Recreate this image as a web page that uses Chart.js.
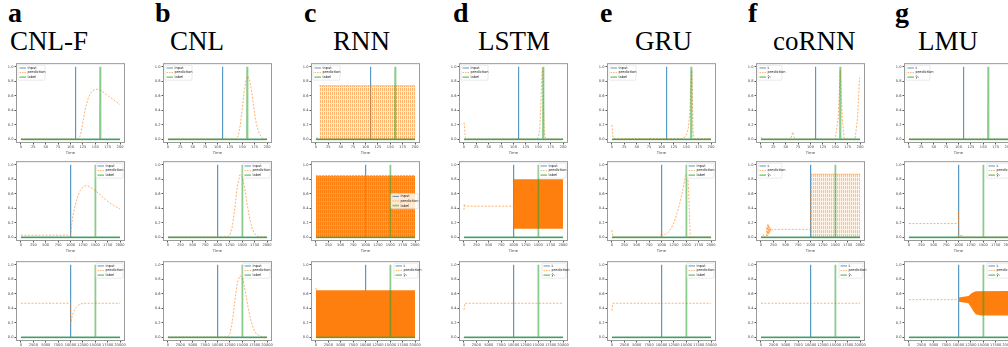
<!DOCTYPE html>
<html>
<head>
<meta charset="utf-8">
<script src="https://cdn.jsdelivr.net/npm/chart.js@4"></script>
<style>
body { margin: 0; background: #fff; }
#fig { position: relative; width: 1008px; height: 347px; overflow: hidden; font-family: "Liberation Serif", "DejaVu Serif", serif; color: #000; }
.letter { position: absolute; top: -3px; font-weight: bold; font-size: 28px; }
.title { position: absolute; top: 26px; font-size: 27px; }
.panel { position: absolute; }
</style>
</head>
<body>
<div id="fig"></div>
<script>
// column headers
const letters = ["a", "b", "c", "d", "e", "f", "g"];
const titles = ["CNL-F", "CNL", "RNN", "LSTM", "GRU", "coRNN", "LMU"];

// one row per sequence length
const timeSpan = [200, 2000, 20000];
const inputAt = [110, 1000, 10000];
const labelAt = [160, 1500, 15000];
const xTicks = [
    [0, 25, 50, 75, 100, 125, 150, 175, 200],
    [0, 250, 500, 750, 1000, 1250, 1500, 1750, 2000],
    [0, 2500, 5000, 7500, 10000, 12500, 15000, 17500, 20000]
];
const yTicks = [0, 0.2, 0.4, 0.6, 0.8, 1.0];
const plainNames = ["input", "prediction", "label"];
const subNames = ["I\u209C", "prediction", "\u0177\u209C"];

// predictions [time, value]
const predA1 = [[0,0.005],[116,0.005],[119,0.04],[122,0.12],[125,0.24],[128,0.36],[132,0.48],[136,0.57],[140,0.63],[145,0.67],[150,0.69],[155,0.69],[160,0.675],[165,0.655],[170,0.63],[180,0.58],[190,0.53],[200,0.48]];
const predA2 = [[0,0.03],[1000,0.03],[1020,0.15],[1050,0.3],[1100,0.46],[1150,0.57],[1200,0.65],[1250,0.695],[1300,0.71],[1350,0.71],[1400,0.69],[1450,0.67],[1500,0.645],[1600,0.585],[1700,0.525],[1800,0.47],[1900,0.43],[2000,0.39]];
const predA3 = [[0,0.47],[9990,0.47],[10000,0.18],[10300,0.28],[10600,0.35],[11000,0.4],[11500,0.44],[12000,0.46],[13000,0.47],[20000,0.47]];
const predB1 = [[0,0.005],[138,0.005],[142,0.05],[146,0.2],[150,0.42],[154,0.66],[158,0.83],[161,0.87],[164,0.84],[168,0.7],[172,0.5],[176,0.3],[180,0.17],[185,0.07],[190,0.02],[195,0.005],[200,0.005]];
const predB2 = [[0,0.005],[1200,0.005],[1250,0.03],[1300,0.15],[1350,0.4],[1400,0.7],[1450,0.86],[1470,0.865],[1500,0.83],[1550,0.68],[1600,0.45],[1650,0.26],[1700,0.12],[1750,0.05],[1800,0.015],[1900,0.005],[2000,0.005]];
const predB3 = [[0,0.005],[12000,0.005],[12500,0.05],[13000,0.22],[13500,0.5],[14000,0.75],[14500,0.85],[14800,0.84],[15200,0.78],[15700,0.6],[16200,0.4],[16700,0.24],[17200,0.13],[17700,0.06],[18500,0.02],[19500,0.005],[20000,0.005]];
const predC1 = [[0,0.02],[7,0.02]];
const predC2 = [[0,0.02],[5,0.02]];
const predC3 = [[0,0.68],[60,0.65]];
const predD1 = [[0,0.23],[1,0.2],[2,0.08],[3,0.02],[5,0.005],[148,0.005],[151,0.05],[153,0.15],[155,0.45],[157,0.85],[158,0.98],[159,0.96],[160,0.7],[161,0.35],[162,0.12],[164,0.03],[167,0.005],[200,0.005]];
const predD2 = [[0,0.38],[5,0.46],[15,0.43],[1000,0.43],[1005,0.25]];
const predD3 = [[0,0.38],[200,0.47],[9990,0.47],[10000,0.42],[10050,0.47],[20000,0.47]];
const predE1 = [[0,0.2],[1,0.12],[2,0.04],[4,0.01],[140,0.01],[145,0.02],[150,0.06],[154,0.15],[157,0.35],[159,0.7],[161,0.95],[162,0.8],[163,0.35],[164,0.08],[166,0.01],[200,0.01]];
const predE2 = [[0,0.1],[10,0.05],[20,0.005],[990,0.005],[1000,0.15],[1005,0.03],[1100,0.05],[1150,0.08],[1200,0.13],[1250,0.2],[1300,0.3],[1350,0.42],[1400,0.56],[1450,0.72],[1480,0.84],[1510,0.88],[1530,0.86],[1550,0.6],[1570,0.2],[1580,0.005],[2000,0.005]];
const predE3 = [[0,0.37],[200,0.47],[9990,0.47],[10000,0.32],[10050,0.47],[20000,0.47]];
const predF1 = [[0,0.03],[5,0.005],[60,0.005],[64,0.1],[68,0.005],[150,0.005],[156,0.3],[160,0.95],[164,0.3],[168,0.005],[190,0.005],[195,0.3],[199,0.85]];
const predF2 = [[0,0.005],[40,0.005],[50,0.04],[60,0.005],[110,0.01],[120,0.15],[130,0.02],[140,0.19],[150,0.04],[160,0.17],[170,0.06],[180,0.14],[190,0.08],[200,0.12],[220,0.1],[250,0.11],[1000,0.11],[1000,0.65]];
const predF3 = [[0,0.47],[20000,0.47]];
const predG1 = [[0,0.005],[200,0.005]];
const predG2 = [[0,0.19],[999,0.19],[1000,0.37],[1002,0.005],[1030,0.01],[1040,0.03],[1050,0.005],[1080,0.025],[1090,0.005],[2000,0.005]];
const predG3 = [[0,0.52],[10000,0.52]];

// oscillating parts of the prediction: lower and upper envelopes
const bandC1 = { lo: [[7,0],[200,0]], hi: [[7,0.74],[200,0.74]] };
const bandC2 = { lo: [[0,0],[2000,0]], hi: [[0,0.85],[2000,0.85]] };
const bandC3 = { lo: [[0,0],[20000,0]], hi: [[0,0.65],[20000,0.65]] };
const bandD2 = { lo: [[1005,0.12],[2000,0.12]], hi: [[1005,0.8],[2000,0.8]] };
const bandF2 = { lo: [[1000,0],[2000,0]], hi: [[1000,0.87],[2000,0.87]] };
const bandG3 = { lo: [[10000,0.49],[12000,0.47],[12500,0.42],[13000,0.36],[13500,0.32],[14500,0.3],[20000,0.3]],
                 hi: [[10000,0.55],[12000,0.57],[12500,0.6],[13000,0.62],[13500,0.635],[20000,0.64]] };

const preds = [
    [predA1, predA2, predA3],
    [predB1, predB2, predB3],
    [predC1, predC2, predC3],
    [predD1, predD2, predD3],
    [predE1, predE2, predE3],
    [predF1, predF2, predF3],
    [predG1, predG2, predG3]
];
const bands = {
    "2,0": [bandC1, "hatch"], "2,1": [bandC2, "dense"], "2,2": [bandC3, "solid"],
    "3,1": [bandD2, "solid"], "5,1": [bandF2, "light"], "6,2": [bandG3, "solid"]
};
const legendPos = [
    ["ul", "ur", "ur"], ["ul", "ur", "ur"], ["ul", "cr", "ur"], ["ul", "ur", "ur"],
    ["ul", "ur", "ur"], ["ul", "ul", "ur"], ["ul", "ur", "ur"]
];
const legendSub = [
    [0, 0, 0], [0, 0, 0], [0, 0, 1], [0, 0, 1], [0, 0, 0], [1, 1, 1], [1, 1, 1]
];

// layout of the figure
const boxLeft = [16, 163, 311, 459, 607, 756, 904];
const rowTop = [61, 159, 259];
const letterLeft = [8, 155, 304, 453, 600, 748, 895];
const titleLeft = [10, 170, 333, 478, 635, 773, 918];
const boxW = 109, boxH = 82, yAxisW = 11, xAxisH = 12;

const BLUE = "rgba(31,119,180,0.75)";
const ORANGE = "rgba(255,127,14,0.6)";
const GREEN = "rgba(44,160,44,0.55)";

// fill textures for the fast oscillations
function stripes(alpha, gap) {
    const p = document.createElement("canvas");
    p.width = 2; p.height = 4;
    const g = p.getContext("2d");
    g.fillStyle = "rgba(255,127,14," + alpha + ")";
    g.fillRect(0, 0, 1, 3);
    g.fillStyle = "rgba(255,127,14," + gap + ")";
    g.fillRect(1, 0, 1, 4);
    g.fillRect(0, 3, 1, 1);
    return p.getContext("2d").createPattern(p, "repeat");
}
const bandFill = {
    hatch: () => stripes(0.6, 0.12),
    light: () => stripes(0.5, 0.1),
    dense: () => stripes(1, 0.8),
    solid: () => "rgb(255,127,14)"
};

const boxAndLegend = {
    id: "boxAndLegend",
    afterDatasetsDraw(chart, args, opts) {
        const ctx = chart.ctx;
        const a = chart.chartArea;
        ctx.save();
        ctx.strokeStyle = "#9a9a9a";
        ctx.lineWidth = 1;
        ctx.strokeRect(a.left + 0.5, a.top + 0.5, a.right - a.left - 1, a.bottom - a.top - 1);

        const w = opts.sub ? 24 : 27, h = 15;
        let x, y;
        if (opts.pos === "ul") { x = a.left + 2; y = a.top + 2; }
        else if (opts.pos === "ur") { x = a.right - w - 2; y = a.top + 2; }
        else { x = a.right - w - 2; y = (a.top + a.bottom) / 2 - h / 2; }
        ctx.fillStyle = "rgba(255,255,255,0.8)";
        ctx.strokeStyle = "#dcdcdc";
        ctx.lineWidth = 0.6;
        ctx.beginPath();
        ctx.roundRect(x, y, w, h, 1);
        ctx.fill();
        ctx.stroke();
        const cols = [BLUE, ORANGE, GREEN];
        const widths = [1, 1, 1.6];
        ctx.font = "3.6px 'DejaVu Sans'";
        ctx.textBaseline = "middle";
        opts.names.forEach((n, i) => {
            const ly = y + 2.8 + i * 4.6;
            ctx.strokeStyle = cols[i];
            ctx.lineWidth = widths[i];
            ctx.setLineDash(i === 1 ? [1.5, 1] : []);
            ctx.beginPath();
            ctx.moveTo(x + 1.5, ly);
            ctx.lineTo(x + 8, ly);
            ctx.stroke();
            ctx.setLineDash([]);
            ctx.fillStyle = "#222";
            ctx.fillText(n, x + 9.5, ly);
        });
        ctx.restore();
    }
};

const fig = document.getElementById("fig");

letters.forEach((l, c) => {
    const d = document.createElement("div");
    d.className = "letter";
    d.style.left = letterLeft[c] + "px";
    d.innerText = l;
    fig.appendChild(d);
    const t = document.createElement("div");
    t.className = "title";
    t.style.left = titleLeft[c] + "px";
    t.innerText = titles[c];
    fig.appendChild(t);
});

function spike(at, span) {
    return [[0, 0], [at - span / 400, 0], [at, 1], [at + span / 400, 0], [span, 0]];
}

for (let c = 0; c < 7; c++) {
    for (let r = 0; r < 3; r++) {
        const span = timeSpan[r];
        const holder = document.createElement("div");
        holder.className = "panel";
        holder.style.left = (boxLeft[c] - yAxisW) + "px";
        holder.style.top = (rowTop[r] - 1) + "px";
        const cv = document.createElement("canvas");
        cv.width = yAxisW + boxW + 2;
        cv.height = boxH + 1 + xAxisH;
        holder.appendChild(cv);
        fig.appendChild(holder);

        const datasets = [
            { data: spike(inputAt[r], span), borderColor: BLUE, borderWidth: 1.2, order: 4 },
            { data: preds[c][r], borderColor: ORANGE, borderWidth: 1, borderDash: [2, 1.5], order: 3 },
            { data: spike(labelAt[r], span), borderColor: GREEN, borderWidth: 1.8, order: 0 }
        ];
        const band = bands[c + "," + r];
        if (band) {
            const kind = band[1];
            datasets.push({ data: band[0].lo, borderWidth: 0, borderColor: "rgba(0,0,0,0)", order: 2 });
            datasets.push({ data: band[0].hi, borderWidth: kind === "solid" ? 0 : 1, borderDash: [2, 1],
                borderColor: ORANGE, backgroundColor: bandFill[kind](), fill: "-1", order: 2 });
        }

        new Chart(cv, {
            type: "line",
            data: { datasets: datasets },
            options: {
                responsive: false,
                animation: false,
                devicePixelRatio: 1,
                layout: { padding: { top: 1, right: 2, left: 0, bottom: 0 } },
                elements: { point: { radius: 0 }, line: { tension: 0 } },
                plugins: {
                    legend: { display: false },
                    tooltip: { enabled: false },
                    boxAndLegend: { pos: legendPos[c][r], names: legendSub[c][r] ? subNames : plainNames, sub: legendSub[c][r] }
                },
                scales: {
                    x: {
                        type: "linear",
                        min: -span * 0.05,
                        max: span * 1.05,
                        afterBuildTicks: s => { s.ticks = xTicks[r].map(v => ({ value: v })); },
                        afterFit: s => { s.height = xAxisH; },
                        grid: { drawOnChartArea: false, tickLength: 1.5, color: "#555" },
                        border: { display: false },
                        ticks: { font: { size: 3.6, family: "DejaVu Sans" }, color: "#444", padding: 0.5,
                                 maxRotation: 0, autoSkip: false, callback: v => String(v) },
                        title: { display: true, text: "Time", font: { size: 3.8, family: "DejaVu Sans" }, color: "#444", padding: 0 }
                    },
                    y: {
                        min: -0.05,
                        max: 1.05,
                        afterBuildTicks: s => { s.ticks = yTicks.map(v => ({ value: v })); },
                        afterFit: s => { s.width = yAxisW; },
                        grid: { drawOnChartArea: false, tickLength: 1.5, color: "#555" },
                        border: { display: false },
                        ticks: { font: { size: 3.6, family: "DejaVu Sans" }, color: "#444", padding: 1,
                                 callback: v => v.toFixed(1) }
                    }
                }
            },
            plugins: [boxAndLegend]
        });
    }
}
</script>
</body>
</html>
